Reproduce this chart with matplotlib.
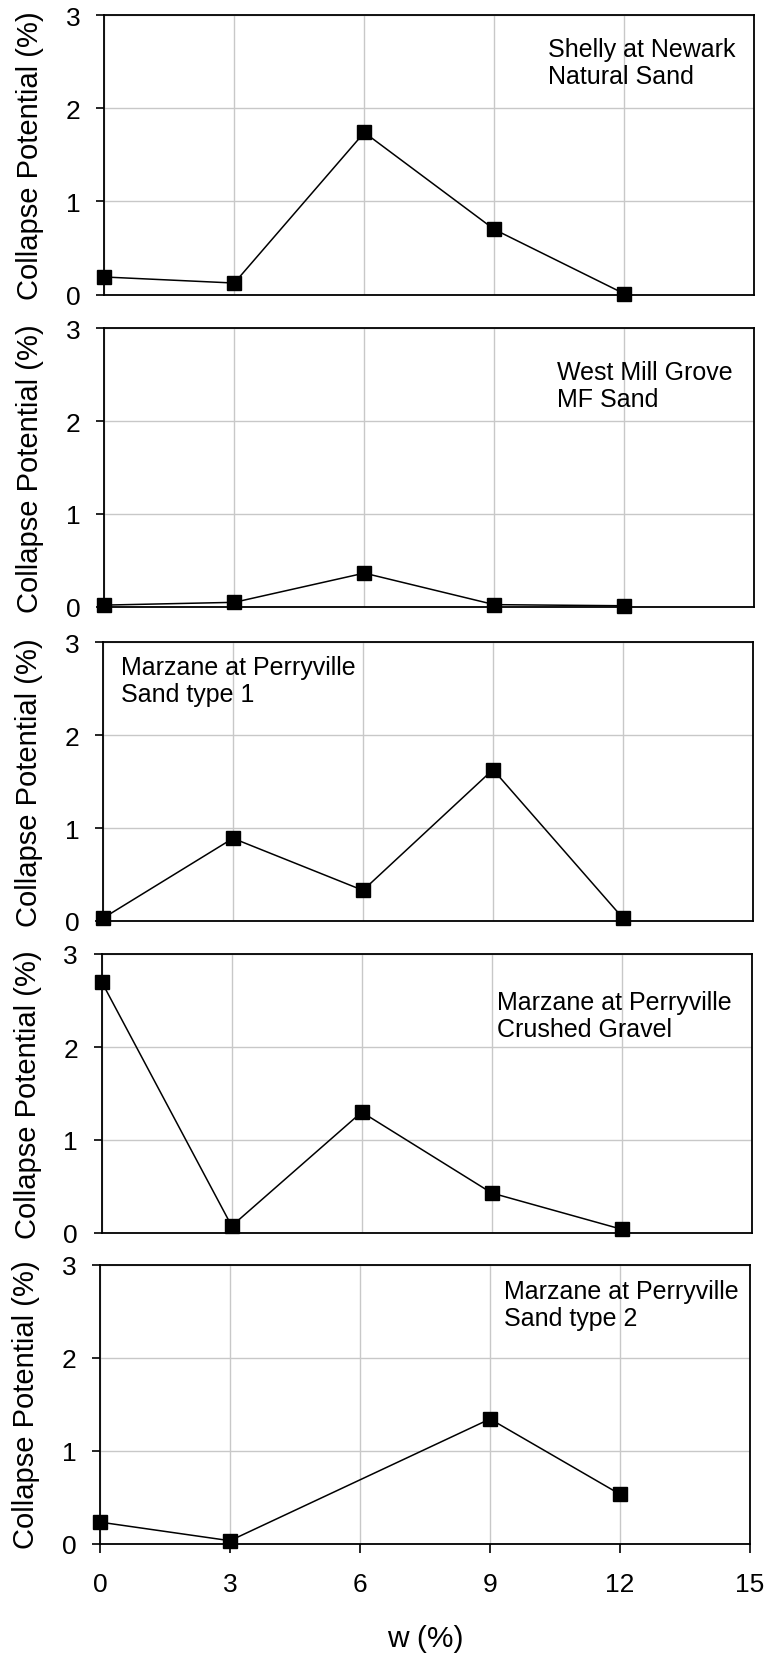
import matplotlib
matplotlib.use("Agg")
import matplotlib.pyplot as plt

plt.rcParams["font.family"] = ["Liberation Sans", "DejaVu Sans"]

W_PX, H_PX = 771, 1658

# water content (%) and collapse potential (%) for each soil
w_full = [0, 3, 6, 9, 12]
w_type2 = [0, 3, 9, 12]

cp_shelly = [0.19, 0.125, 1.74, 0.70, 0.01]
cp_westmill = [0.015, 0.045, 0.36, 0.02, 0.008]
cp_sand1 = [0.03, 0.89, 0.33, 1.63, 0.03]
cp_gravel = [2.70, 0.075, 1.30, 0.43, 0.04]
cp_sand2 = [0.23, 0.03, 1.34, 0.53]

labels = [
    "Shelly at Newark\nNatural Sand",
    "West Mill Grove\nMF Sand",
    "Marzane at Perryville\nSand type 1",
    "Marzane at Perryville\nCrushed Gravel",
    "Marzane at Perryville\nSand type 2",
]
series = [
    (w_full, cp_shelly),
    (w_full, cp_westmill),
    (w_full, cp_sand1),
    (w_full, cp_gravel),
    (w_type2, cp_sand2),
]

# panel boxes in pixels: left, right, top, bottom
boxes = [
    (104.3, 754.3, 16.0, 295.7),
    (104.3, 754.3, 329.3, 607.5),
    (103.0, 753.0, 643.3, 922.0),
    (101.7, 751.7, 955.0, 1234.0),
    (100.0, 750.0, 1265.7, 1544.5),
]
# label anchor (axes fraction, top-left of text)
label_pos = [
    (0.682, 0.92),
    (0.696, 0.885),
    (0.027, 0.955),
    (0.608, 0.872),
    (0.622, 0.947),
]

fig = plt.figure(figsize=(W_PX / 100, H_PX / 100), dpi=100)

for i, ((x, y), box, lab, lp) in enumerate(zip(series, boxes, labels, label_pos)):
    l, r, t, b = box
    ax = fig.add_axes([l / W_PX, 1 - b / H_PX, (r - l) / W_PX, (b - t) / H_PX])
    ax.plot(x, y, color="black", lw=1.1, marker="s", markersize=9.8,
            markerfacecolor="black", clip_on=False, zorder=5)
    ax.set_xlim(0, 15)
    ax.set_ylim(0, 3)
    ax.set_xticks([0, 3, 6, 9, 12, 15])
    ax.set_yticks([0, 1, 2, 3])
    ax.grid(True, color="#c8c8c8", lw=1.0)
    ax.set_axisbelow(True)
    for s in ax.spines.values():
        s.set_linewidth(1.3)
        s.set_color("black")
    ax.tick_params(axis="y", direction="out", length=6, width=1.2,
                   labelsize=19, pad=11)
    if i < 4:
        ax.tick_params(axis="x", length=0, labelbottom=False)
    else:
        ax.tick_params(axis="x", direction="out", length=6.5, width=1.2,
                       labelsize=19, pad=14)
        ax.set_xlabel("w (%)", fontsize=21.5, labelpad=20)
    ax.set_ylabel("Collapse Potential (%)", fontsize=21)
    ax.yaxis.set_label_coords(-0.092, 0.5)
    ax.text(lp[0], lp[1], lab, transform=ax.transAxes, ha="left", va="top",
            fontsize=18, linespacing=1.15)

fig.savefig("out.png", dpi=100)
